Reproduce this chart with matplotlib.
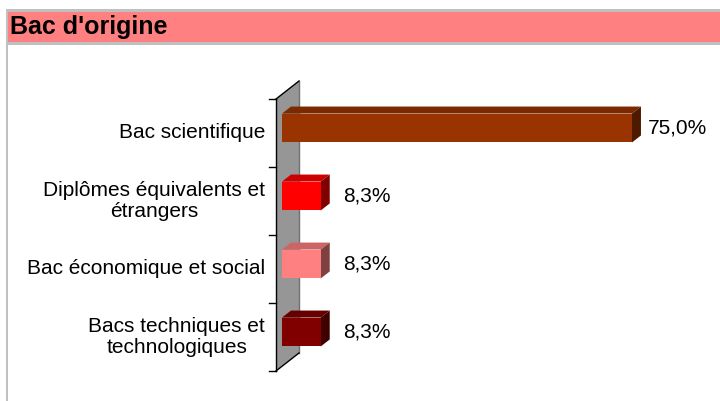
import matplotlib
matplotlib.use("Agg")
import matplotlib.pyplot as plt
from matplotlib.patches import Polygon, Rectangle

plt.rcParams['font.family'] = ['Liberation Sans', 'DejaVu Sans']

# donnees
titre = "Bac d'origine"
categories = ["Bac scientifique",
              "Diplômes équivalents et\nétrangers",
              "Bac économique et social",
              "Bacs techniques et\ntechnologiques"]
valeurs = [75.0, 8.3, 8.3, 8.3]
etiquettes = ["75,0%", "8,3%", "8,3%", "8,3%"]
couleurs = ["#993300", "#FF0000", "#FF8080", "#800000"]
couleurs_dessus = ["#7a2900", "#cc0000", "#cc6666", "#660000"]
couleurs_cote = ["#4d1a00", "#800000", "#804040", "#400000"]

W, H = 720, 401
fig = plt.figure(figsize=(W / 100, H / 100), dpi=100)

# cadre et bandeau du titre (en pixels)
def px_rect(x, y, w, h, **kw):
    r = Rectangle((x / W, 1 - (y + h) / H), w / W, h / H,
                  transform=fig.transFigure, linewidth=0, **kw)
    fig.patches.append(r)

px_rect(6, 9, W - 6, 3, color="#c0c0c0")
px_rect(6, 9, 2, H - 9, color="#c0c0c0")
px_rect(8, 12, W - 8, 30, color="#FF8080")
px_rect(8, 42, W - 8, 3, color="#c0c0c0")
fig.text(10 / W, 1 - 34 / H, titre, fontsize=18, fontweight='bold',
         ha='left', va='baseline')

# axe du plan avant des barres
xmax = 80
ax_l, ax_t, ax_w, ax_h = 282, 94, 373.3, 272
ax = fig.add_axes([ax_l / W, 1 - (ax_t + ax_h) / H, ax_w / W, ax_h / H])
ax.set_xlim(0, xmax)
ax.set_ylim(len(categories) - 0.5, -0.5)
ax.axis('off')

sx = xmax / ax_w            # unites x par pixel
sy = len(categories) / ax_h  # unites y par pixel (vers le bas)

# profondeur des barres et du mur
bdx, bdy = 9 * sx, 7 * sy
mur_av_x, mur_av_y = -6 * sx, 5 * sy
mur_ar_x, mur_ar_y = 17 * sx, -13 * sy

n = len(categories)
haut_av, bas_av = -0.5 + mur_av_y, n - 0.5 + mur_av_y
haut_ar, bas_ar = -0.5 + mur_ar_y, n - 0.5 + mur_ar_y

mur = Polygon([(mur_av_x, haut_av), (mur_ar_x, haut_ar),
               (mur_ar_x, bas_ar), (mur_av_x, bas_av)],
              closed=True, facecolor="#969696", edgecolor='none',
              clip_on=False, zorder=1)
ax.add_patch(mur)
ax.plot([mur_ar_x, mur_ar_x], [haut_ar, bas_ar], color="#707070", lw=1,
        clip_on=False, zorder=2)
ax.plot([mur_av_x, mur_ar_x], [haut_av, haut_ar], color="black", lw=1,
        clip_on=False, zorder=2)
ax.plot([mur_av_x, mur_ar_x], [bas_av, bas_ar], color="black", lw=1,
        clip_on=False, zorder=2)
ax.plot([mur_av_x, mur_av_x], [haut_av, bas_av], color="black", lw=1,
        clip_on=False, zorder=2)
for k in range(n + 1):
    yk = -0.5 + k + mur_av_y
    ax.plot([mur_av_x - 7 * sx, mur_av_x], [yk, yk], color="black", lw=1,
            clip_on=False, zorder=2)

# barres 3D
hb = 0.425
for i, v in enumerate(valeurs):
    ax.barh(i, v, height=hb, color=couleurs[i], zorder=4)
    h0, h1 = i - hb / 2, i + hb / 2
    dessus = Polygon([(0, h0), (bdx, h0 - bdy), (v + bdx, h0 - bdy), (v, h0)],
                     closed=True, facecolor=couleurs_dessus[i],
                     edgecolor='none', clip_on=False, zorder=3)
    cote = Polygon([(v, h0), (v + bdx, h0 - bdy), (v + bdx, h1 - bdy), (v, h1)],
                   closed=True, facecolor=couleurs_cote[i],
                   edgecolor='none', clip_on=False, zorder=3)
    ax.add_patch(dessus)
    ax.add_patch(cote)
    ax.text(v + 46 * sx, i, etiquettes[i], fontsize=15, ha='center',
            va='center', clip_on=False)

# libelles des categories
for i, c in enumerate(categories):
    ax.text(mur_av_x - 11 * sx, i + mur_av_y, c, fontsize=15, ha='right',
            va='center', multialignment='center', linespacing=1.15)

fig.savefig("out.png", dpi=100)
